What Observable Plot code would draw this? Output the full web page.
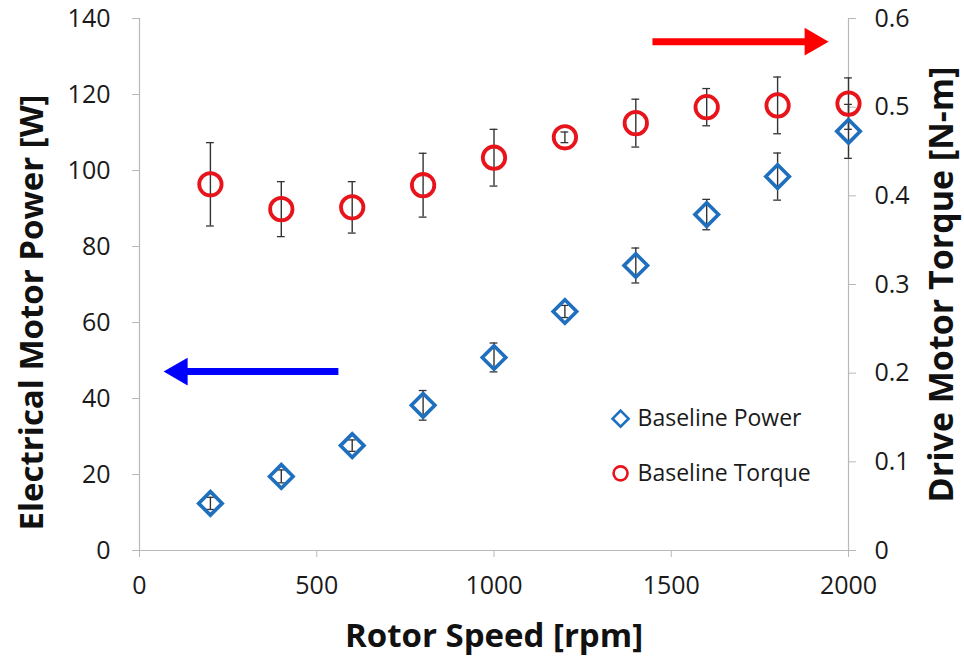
<!DOCTYPE html>
<html>
<head>
<meta charset="utf-8">
<script src="https://cdn.jsdelivr.net/npm/d3@7"></script>
<script src="https://cdn.jsdelivr.net/npm/@observablehq/plot@0.6"></script>
<style>
  body { margin: 0; background: #fff; }
  #chart svg { font-family: "Open Sans", Lato, sans-serif; color: #1a1a1a; }
</style>
</head>
<body>
<div id="chart"></div>
<script>
// Rotor speed sweep (rpm)
const speed = [200, 400, 600, 800, 1000, 1200, 1400, 1600, 1800, 2000];
// Electrical motor power [W] and its spread
const power    = [12.4, 19.5, 27.6, 38.2, 50.8, 62.9, 75.0, 88.4, 98.4, 110.3];
const powerErr = [1.6, 1.7, 1.5, 3.9, 3.8, 1.6, 4.6, 4.0, 6.2, 7.1];
// Drive motor torque [N-m] and its spread
const torque    = [0.413, 0.385, 0.387, 0.412, 0.443, 0.466, 0.482, 0.500, 0.502, 0.504];
const torqueErr = [0.047, 0.031, 0.029, 0.036, 0.032, 0.006, 0.027, 0.021, 0.032, 0.029];

// Axis ticks
const speedTicks  = [0, 500, 1000, 1500, 2000];
const powerTicks  = [0, 20, 40, 60, 80, 100, 120, 140];
const torqueTicks = [0, 0.1, 0.2, 0.3, 0.4, 0.5, 0.6];
const torqueTickLabels = ["0", "0.1", "0.2", "0.3", "0.4", "0.5", "0.6"];

// Axis-pointer arrows: start, tip (rpm) and level (W)
const arrowFrom  = [1447, 561];
const arrowTip   = [1944, 68];
const arrowLevel = [133.9, 47.1];
const arrowName  = ["torque", "power"];

// Legend entries
const legendNames = ["Baseline Power", "Baseline Torque"];
const legendX = 1357;
const legendTextX = 1405;
const legendY = [34.7, 20.3];

const POWER_MAX = 140, TORQUE_MAX = 0.6;
const k = POWER_MAX / TORQUE_MAX;      // torque → shared vertical scale
const capHalf = 11;                     // half width of error-bar caps, rpm
const headR = 10.3;                     // arrow head symbol radius, px
const headOffset = 2 * Math.sqrt(Math.PI * headR * headR / (3 * Math.sqrt(3))); // centroid → tip

const pts = speed.map((s, i) => ({
  s, p: power[i], pe: powerErr[i], t: torque[i] * k, te: torqueErr[i] * k
}));

const arrows = arrowName.map((n, i) => ({
  n, from: arrowFrom[i], tip: arrowTip[i], y: arrowLevel[i],
  dir: arrowTip[i] > arrowFrom[i] ? 1 : -1
}));

const blue = "#1f6fbf", red = "#e8141b", gridGray = "#b8b8b8", barGray = "#333";
const titleStyle = { fontSize: 33, fontWeight: "bold", fill: "#111", textAnchor: "middle", lineAnchor: "middle" };

const chart = Plot.plot({
  width: 964,
  height: 657,
  marginLeft: 139,
  marginRight: 116,
  marginTop: 18,
  marginBottom: 107,
  x: { domain: [0, 2000] },
  y: { domain: [0, POWER_MAX] },
  marks: [
    // axis lines
    Plot.ruleX([0, 2000], { stroke: gridGray, strokeWidth: 1.2 }),
    Plot.ruleY([0], { stroke: gridGray, strokeWidth: 1.2 }),
    Plot.axisX(speedTicks, {
      tickSize: 7, tickPadding: 19, fontSize: 25, stroke: gridGray, label: null,
      tickFormat: d => String(d)
    }),
    Plot.axisY(powerTicks, {
      anchor: "left", tickSize: 7, tickPadding: 22, fontSize: 25, stroke: gridGray, label: null
    }),
    Plot.axisY(torqueTicks.map(t => t * k), {
      anchor: "right", tickSize: 7, tickPadding: 19, fontSize: 25, stroke: gridGray, label: null,
      tickFormat: (d, i) => torqueTickLabels[i]
    }),

    // error bars
    Plot.ruleX(pts, { x: "s", y1: d => d.p - d.pe, y2: d => d.p + d.pe, stroke: barGray, strokeWidth: 1.4 }),
    Plot.ruleY(pts, { y: d => d.p - d.pe, x1: d => d.s - capHalf, x2: d => d.s + capHalf, stroke: barGray, strokeWidth: 1.3 }),
    Plot.ruleY(pts, { y: d => d.p + d.pe, x1: d => d.s - capHalf, x2: d => d.s + capHalf, stroke: barGray, strokeWidth: 1.3 }),
    Plot.ruleX(pts, { x: "s", y1: d => d.t - d.te, y2: d => d.t + d.te, stroke: barGray, strokeWidth: 1.4 }),
    Plot.ruleY(pts, { y: d => d.t - d.te, x1: d => d.s - capHalf, x2: d => d.s + capHalf, stroke: barGray, strokeWidth: 1.3 }),
    Plot.ruleY(pts, { y: d => d.t + d.te, x1: d => d.s - capHalf, x2: d => d.s + capHalf, stroke: barGray, strokeWidth: 1.3 }),

    // series markers
    Plot.dot(pts, { x: "s", y: "p", symbol: "diamond2", r: 10.6, stroke: blue, strokeWidth: 3.6, fill: "none" }),
    Plot.dot(pts, { x: "s", y: "t", symbol: "circle", r: 11.2, stroke: red, strokeWidth: 3.8, fill: "none" }),

    // arrows pointing at the matching axis
    Plot.link(arrows, {
      x1: "from", x2: d => d.tip - d.dir * 50, y1: "y", y2: "y",
      stroke: d => d.n === "torque" ? "#ff0000" : "#0000ff", strokeWidth: 7
    }),
    Plot.dot(arrows.filter(d => d.dir > 0), {
      x: "tip", y: "y", symbol: "triangle", r: headR, rotate: 90, dx: -headOffset,
      fill: "#ff0000", stroke: "none"
    }),
    Plot.dot(arrows.filter(d => d.dir < 0), {
      x: "tip", y: "y", symbol: "triangle", r: headR, rotate: -90, dx: headOffset,
      fill: "#0000ff", stroke: "none"
    }),

    // legend
    Plot.dot([legendNames[0]], { x: () => legendX, y: () => legendY[0], symbol: "diamond2", r: 7.2, stroke: blue, strokeWidth: 2.6, fill: "none" }),
    Plot.dot([legendNames[1]], { x: () => legendX, y: () => legendY[1], symbol: "circle", r: 7, stroke: red, strokeWidth: 2.6, fill: "none" }),
    Plot.text(legendNames, { x: () => legendTextX, y: (d, i) => legendY[i], text: d => d, textAnchor: "start", fontSize: 23, fill: "#1a1a1a" }),

    // axis titles
    Plot.text(["Rotor Speed [rpm]"], { frameAnchor: "bottom", dy: 86, ...titleStyle }),
    Plot.text(["Electrical Motor Power [W]"], { frameAnchor: "left", dx: -107, dy: 28, rotate: -90, ...titleStyle }),
    Plot.text(["Drive Motor Torque [N-m]"], { frameAnchor: "right", dx: 94, dy: 0, rotate: -90, ...titleStyle, fontSize: 34 })
  ]
});

document.getElementById("chart").appendChild(chart);
</script>
</body>
</html>
